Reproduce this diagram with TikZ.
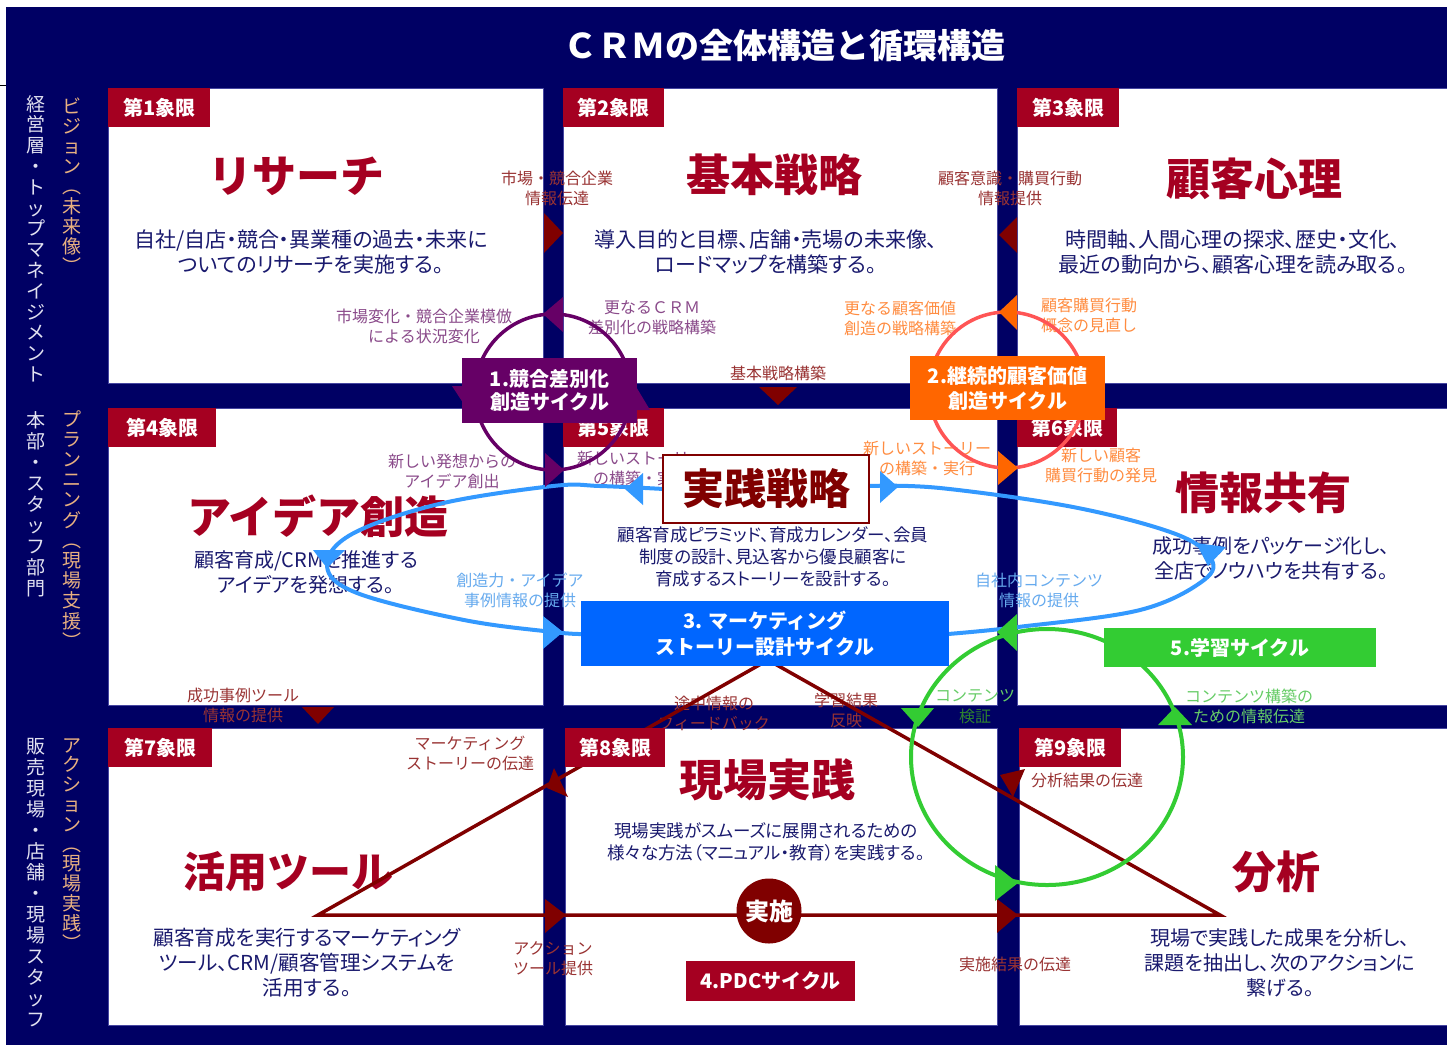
\documentclass[tikz,border=0pt]{standalone}
\usepackage{fontspec}
\newfontfamily\jp{Noto Sans CJK JP}
\newfontfamily\jpp[RawFeature=+palt]{Noto Sans CJK JP}
\definecolor{navy}{RGB}{0,0,100}
\definecolor{paneledge}{RGB}{70,70,160}
\definecolor{qred}{RGB}{165,0,33}
\definecolor{maroonc}{RGB}{128,0,0}
\definecolor{bodyblue}{RGB}{26,26,110}
\definecolor{cpurple}{RGB}{102,0,102}
\definecolor{labpurple}{RGB}{138,74,138}
\definecolor{corange}{RGB}{255,102,0}
\definecolor{corcircle}{RGB}{255,85,85}
\definecolor{laborange}{RGB}{255,140,64}
\definecolor{cblue}{RGB}{0,102,255}
\definecolor{bluecurve}{RGB}{51,153,255}
\definecolor{labblue}{RGB}{102,170,238}
\definecolor{cgreen}{RGB}{51,204,51}
\definecolor{labgreen}{RGB}{102,204,102}
\definecolor{darkgreen}{RGB}{46,130,46}
\definecolor{labred}{RGB}{153,51,51}
\definecolor{vwhite}{RGB}{225,225,240}
\definecolor{vtan}{RGB}{232,176,128}
\tikzset{
  panelbox/.style={fill=white, draw=paneledge, line width=1pt, anchor=north west, inner sep=0pt},
  qlab/.style={fill=qred, text=white, font=\jp\bfseries\fontsize{20}{22}\selectfont, inner sep=0pt, anchor=north west, minimum height=39pt},
  ptitle/.style={text=qred, font=\jp\bfseries\fontsize{44}{48}\selectfont, inner sep=0pt},
  bodytxt/.style={text=bodyblue, font=\jpp\fontsize{#1}{25}\selectfont, align=center, inner sep=0pt},
  bodytxt/.default=21,
  bodysm/.style={text=bodyblue, font=\jpp\fontsize{17.5}{22}\selectfont, align=center, inner sep=0pt},
  lab/.style={font=\jp\fontsize{16}{20}\selectfont, align=center, inner sep=0pt},
  cyc/.style={text=white, font=\jp\bfseries\fontsize{20}{#1}\selectfont, align=center, inner sep=0pt},
  cyc/.default=24,
  vtxt/.style={font=\jp\fontsize{19}{#1}\selectfont, align=center, inner sep=0pt, anchor=north},
  vtxt/.default=20.8,
  loopline/.style={line width=3.5pt}
}
\begin{document}
\begin{tikzpicture}[x=1pt,y=-1pt]
\useasboundingbox (0,0) rectangle (1447,1045);
\fill[white] (0,0) rectangle (1447,1045);
\fill[navy] (6,7) rectangle (1447,1045);
\draw[black, line width=0.8pt] (0,85) -- (6,85);

% title
\node[text=white, font=\jp\bfseries\fontsize{34}{38}\selectfont] (title) at (784,46) {ＣＲＭの全体構造と循環構造};

% panels
\node[panelbox, minimum width=435pt, minimum height=295pt] (p1) at (108,88) {};
\node[panelbox, minimum width=434pt, minimum height=295pt] (p2) at (563,88) {};
\node[panelbox, minimum width=445pt, minimum height=295pt] (p3) at (1017,88) {};
\node[panelbox, minimum width=435pt, minimum height=297pt] (p4) at (108,408) {};
\node[panelbox, minimum width=434pt, minimum height=297pt] (p5) at (563,408) {};
\node[panelbox, minimum width=445pt, minimum height=297pt] (p6) at (1017,408) {};
\node[panelbox, minimum width=435pt, minimum height=297pt] (p7) at (108,728) {};
\node[panelbox, minimum width=432pt, minimum height=297pt] (p8) at (565,728) {};
\node[panelbox, minimum width=445pt, minimum height=297pt] (p9) at (1019,728) {};

% vertical side texts
\node[vtxt, text=vwhite] (v1) at (36,95) {経\\営\\層\\・\\ト\\ッ\\プ\\マ\\ネ\\イ\\ジ\\メ\\ン\\ト};
\node[vtxt=20, text=vtan] (v2) at (72,98) {ビ\\ジ\\ョ\\ン\\︵\\未\\来\\像\\︶};
\node[vtxt=21, text=vwhite] (v3) at (36,411) {本\\部\\・\\ス\\タ\\ッ\\フ\\部\\門};
\node[vtxt=20.2, text=vtan] (v4) at (72,410) {プ\\ラ\\ン\\ニ\\ン\\グ\\︵\\現\\場\\支\\援\\︶};
\node[vtxt=21, text=vwhite] (v5) at (36,738) {販\\売\\現\\場\\・\\店\\舗\\・\\現\\場\\ス\\タ\\ッ\\フ};
\node[vtxt=19.8, text=vtan] (v6) at (72,738) {ア\\ク\\シ\\ョ\\ン\\︵\\現\\場\\実\\践\\︶};

% panel titles and bodies
\node[ptitle] (t1) at (296,176) {リサーチ};
\node[bodytxt] (b1) at (311,252) {自社/自店・競合・異業種の過去・未来に\\ついてのリサーチを実施する。};
\node[ptitle] (t2) at (774,175) {基本戦略};
\node[bodytxt] (b2) at (766,252) {導入目的と目標、店舗・売場の未来像、\\ロードマップを構築する。};
\node[ptitle] (t3) at (1254,179) {顧客心理};
\node[bodytxt] (b3) at (1233,252) {時間軸、人間心理の探求、歴史・文化、\\最近の動向から、顧客心理を読み取る。};
\node[ptitle] (t4) at (318,516) {アイデア創造};
\node[bodytxt=20] (b4) at (306,572) {顧客育成/CRMを推進する\\アイデアを発想する。};
\node[bodysm] (b5) at (773,557) {顧客育成ピラミッド、育成カレンダー、会員\\制度の設計、見込客から優良顧客に\\育成するストーリーを設計する。};
\node[ptitle] (t6) at (1263,493) {情報共有};
\node[bodytxt=20] (b6) at (1271,558) {成功事例をパッケージ化し、\\全店でノウハウを共有する。};
\node[ptitle, font=\jp\bfseries\fontsize{42}{46}\selectfont] (t7) at (288,872) {活用ツール};
\node[bodytxt=20.6] (b7) at (307,963) {顧客育成を実行するマーケティング\\ツール、CRM/顧客管理システムを\\活用する。};
\node[ptitle] (t8) at (767,780) {現場実践};
\node[bodysm] (b8) at (766,842) {現場実践がスムーズに展開されるための\\様々な方法（マニュアル・教育）を実践する。};
\node[ptitle] (t9) at (1276,872) {分析};
\node[bodytxt=20] (b9) at (1280,963) {現場で実践した成果を分析し、\\課題を抽出し、次のアクションに\\繋げる。};

% labels: dark red
\node[lab, text=labred] (l1) at (557,188) {市場・競合企業\\情報伝達};
\node[lab, text=labred] (l2) at (1010,188) {顧客意識・購買行動\\情報提供};
\node[lab, text=labred] (l3) at (778,373) {基本戦略構築};
\node[lab, text=labred] (l4) at (243,705) {成功事例ツール\\情報の提供};
\node[lab, text=labred] (l5) at (470,753) {マーケティング\\ストーリーの伝達};
\node[lab, text=labred] (l6) at (714,713) {途中情報の\\フィードバック};
\node[lab, text=labred] (l7) at (846,710) {学習結果\\反映};
\node[lab, text=labred] (l8) at (1087,780) {分析結果の伝達};
\node[lab, text=labred] (l9) at (553,959) {アクション\\ツール提供};
\node[lab, text=labred] (l10) at (1015,964) {実施結果の伝達};
% purple
\node[lab, text=labpurple] (m1) at (424,326) {市場変化・競合企業模倣\\による状況変化};
\node[lab, text=labpurple] (m2) at (652,318) {更なるＣＲＭ\\差別化の戦略構築};
\node[lab, text=labpurple] (m3) at (452,471) {新しい発想からの\\アイデア創出};
\node[lab, text=labpurple] (m4) at (641,468) {新しいストーリー\\の構築・実行};
% orange
\node[lab, text=laborange] (o1) at (900,318) {更なる顧客価値\\創造の戦略構築};
\node[lab, text=laborange] (o2) at (1089,315) {顧客購買行動\\概念の見直し};
\node[lab, text=laborange] (o3) at (927,458) {新しいストーリー\\の構築・実行};
\node[lab, text=laborange] (o4) at (1101,465) {新しい顧客\\購買行動の発見};
% blue
\node[lab, text=labblue] (c1) at (520,590) {創造力・アイデア\\事例情報の提供};
\node[lab, text=labblue] (c2) at (1039,590) {自社内コンテンツ\\情報の提供};
% green
\node[lab, text=labgreen] (g1) at (975,696) {コンテンツ};
\node[lab, text=darkgreen] (g1b) at (975,716) {検証};
\node[lab, text=labgreen] (g2) at (1249,706) {コンテンツ構築の\\ための情報伝達};

% key coordinates
\coordinate (c1c) at (553,392);
\coordinate (c2c) at (1007,390);
\coordinate (c5c) at (1047,757);
\coordinate (pdcL) at (318,915);
\coordinate (pdcR) at (1220,915);
\coordinate (pdcT) at (768,660);

% PDC triangle
\draw[maroonc, loopline, line join=miter] (pdcT) -- (pdcL) -- (pdcR) -- cycle;

% quadrant labels
\node[qlab, minimum width=102pt] (q1) at (108,88) {第1象限};
\node[qlab, minimum width=101pt] (q2) at (563,88) {第2象限};
\node[qlab, minimum width=102pt] (q3) at (1017,88) {第3象限};
\node[qlab, minimum width=108pt] (q4) at (108,408) {第4象限};
\node[qlab, minimum width=101pt] (q5) at (563,408) {第5象限};
\node[qlab, minimum width=100pt] (q6) at (1017,408) {第6象限};
\node[qlab, minimum width=104pt] (q7) at (108,728) {第7象限};
\node[qlab, minimum width=100pt] (q8) at (565,728) {第8象限};
\node[qlab, minimum width=102pt] (q9) at (1019,728) {第9象限};

% cycle 1 and 2 circles
\draw[cpurple, loopline] (c1c) circle[radius=78pt];
\draw[corcircle, loopline] (c2c) circle[radius=78pt];

% cycle 3 blue curve
\draw[bluecurve, line width=4pt] plot[smooth, tension=0.6] coordinates {(664,489) (600,486) (553,486) (439,504) (352,534) (327,566) (357,593) (464,620) (553,632) (582,634)};
\draw[bluecurve, line width=4pt] plot[smooth, tension=0.6] coordinates {(868,486) (940,488) (1073,507) (1173,533) (1210,557) (1204,580) (1140,610) (1018,627) (948,634)};

% cycle 5 green loop
\draw[cgreen, line width=4pt] (c5c) ellipse[x radius=136pt, y radius=128pt];

% arrowheads: maroon
\fill[maroonc] (544,213) -- (544,253) -- (563,233) -- cycle;
\fill[maroonc] (1017,217) -- (1017,253) -- (999,235) -- cycle;
\fill[maroonc] (759,387) -- (797,387) -- (778,405) -- cycle;
\fill[maroonc] (302,707) -- (334,707) -- (318,724) -- cycle;
\fill[maroonc] (545,899) -- (545,933) -- (566,915) -- cycle;
\fill[maroonc] (997,899) -- (997,933) -- (1018,915) -- cycle;
\fill[maroonc] (554,768) -- (568,797) -- (547,788) -- cycle;
\fill[maroonc] (1000,775) -- (1025,769) -- (1013,797) -- cycle;
% purple
\fill[cpurple] (563,297) -- (563,332) -- (543,314) -- cycle;
\fill[cpurple] (545,453) -- (545,487) -- (564,470) -- cycle;
\fill[cpurple] (452,386) -- (494,386) -- (473,418) -- cycle;
\fill[cpurple] (615,410) -- (650,410) -- (632,380) -- cycle;
% orange
\fill[corange] (1017,295) -- (1017,330) -- (999,312) -- cycle;
\fill[corange] (998,451) -- (998,485) -- (1018,468) -- cycle;
% blue
\fill[bluecurve] (643,473) -- (643,505) -- (625,489) -- cycle;
\fill[bluecurve] (880,471) -- (880,503) -- (898,487) -- cycle;
\fill[bluecurve] (1196,543) -- (1226,547) -- (1208,566) -- cycle;
\fill[bluecurve] (313,550) -- (345,550) -- (327,568) -- cycle;
\fill[bluecurve] (543,616) -- (543,649) -- (563,632) -- cycle;
% green
\fill[cgreen] (1017,614) -- (1017,651) -- (997,632) -- cycle;
\fill[cgreen] (901,708) -- (934,708) -- (918,727) -- cycle;
\fill[cgreen] (995,865) -- (995,901) -- (1018,883) -- cycle;
\fill[cgreen] (1158,725) -- (1192,725) -- (1175,707) -- cycle;

% cycle boxes
\node[cyc=23, fill=cpurple, minimum width=175pt, minimum height=65pt] (cyc1) at (549.5,390.5) {1.競合差別化\\創造サイクル};
\node[cyc=25, fill=corange, minimum width=195pt, minimum height=64pt] (cyc2) at (1007.5,388) {2.継続的顧客価値\\創造サイクル};
\node[cyc=26, fill=cblue, minimum width=368pt, minimum height=65pt] (cyc3) at (765,633.5) {3. マーケティング\\ストーリー設計サイクル};
\node[cyc, fill=qred, minimum width=169pt, minimum height=40pt] (cyc4) at (770.5,981) {4.PDCサイクル};
\node[cyc, fill=cgreen, minimum width=272pt, minimum height=39pt] (cyc5) at (1240,647.5) {5.学習サイクル};

% practice strategy box
\node[draw=maroonc, line width=2pt, fill=white, minimum width=206pt, minimum height=68pt, inner sep=0pt, text=maroonc, font=\jp\bfseries\fontsize{42}{46}\selectfont] (t5) at (766,489) {実践戦略};

% implementation circle
\node[circle, fill=maroonc, minimum size=65pt, inner sep=0pt, text=white, font=\jp\bfseries\fontsize{24}{26}\selectfont] (jisshi) at (769,911) {実施};
\end{tikzpicture}
\end{document}
